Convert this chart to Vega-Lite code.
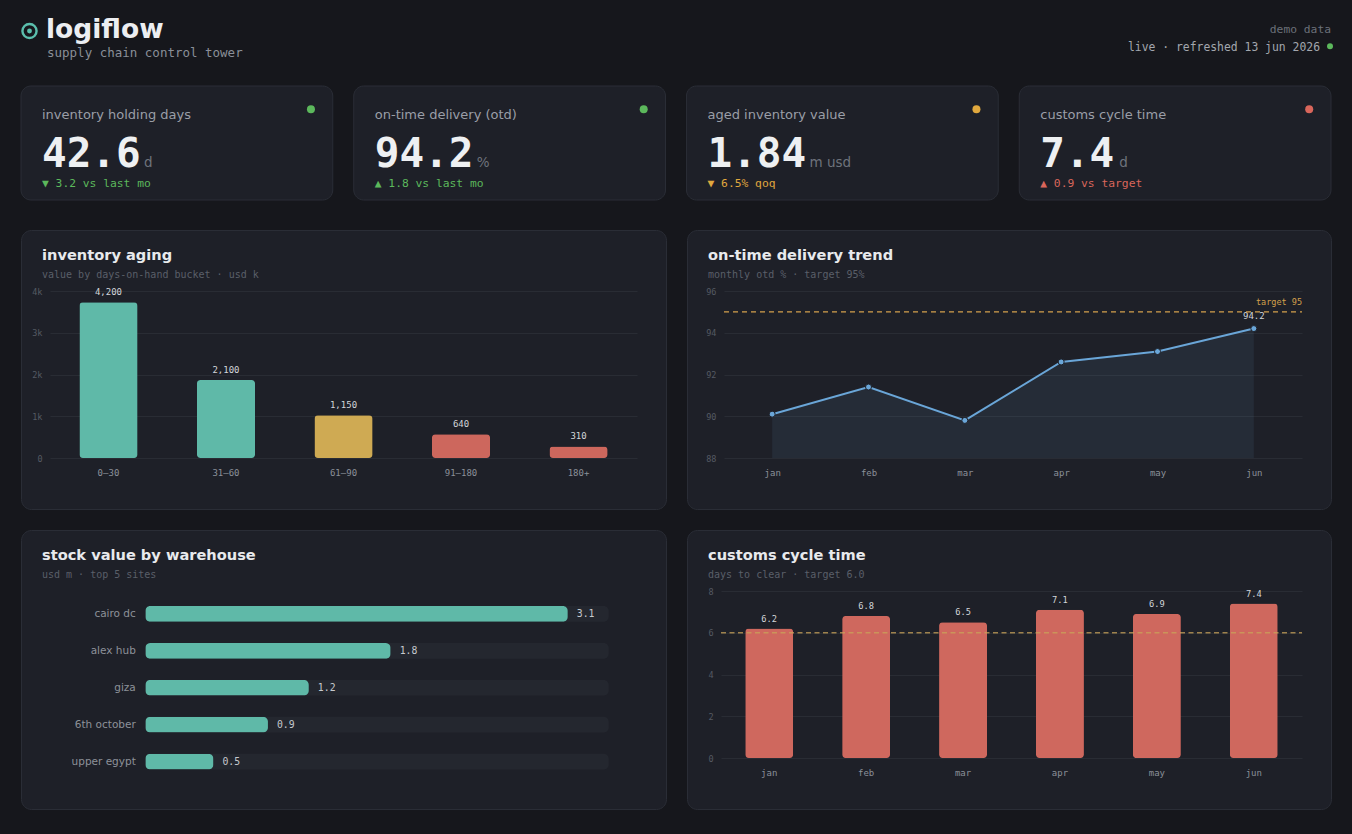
{
  "$schema": "https://vega.github.io/schema/vega-lite/v6.json",
  "background": "#16171c",
  "padding": {"left": 17, "top": 0, "right": 21, "bottom": 24},
  "autosize": {"type": "pad"},
  "datasets": {
    "header": [{"brand": "logiflow", "tagline": "supply chain control tower", "source": "demo data", "status": "live · refreshed 13 jun 2026"}],
    "kpis": [
      {"kpi": "inventory holding days", "value": "42.6", "unit": "d", "delta": "▼ 3.2 vs last mo", "status": "good"},
      {"kpi": "on-time delivery (otd)", "value": "94.2", "unit": "%", "delta": "▲ 1.8 vs last mo", "status": "good"},
      {"kpi": "aged inventory value", "value": "1.84", "unit": "m usd", "delta": "▼ 6.5% qoq", "status": "warn"},
      {"kpi": "customs cycle time", "value": "7.4", "unit": "d", "delta": "▲ 0.9 vs target", "status": "bad"}
    ],
    "aging": [
      {"bucket": "0–30", "value": 4200, "risk": "current"},
      {"bucket": "31–60", "value": 2100, "risk": "current"},
      {"bucket": "61–90", "value": 1150, "risk": "watch"},
      {"bucket": "91–180", "value": 640, "risk": "aged"},
      {"bucket": "180+", "value": 310, "risk": "aged"}
    ],
    "otd": [
      {"month": "jan", "otd": 90.1},
      {"month": "feb", "otd": 91.4},
      {"month": "mar", "otd": 89.8},
      {"month": "apr", "otd": 92.6},
      {"month": "may", "otd": 93.1},
      {"month": "jun", "otd": 94.2}
    ],
    "otd_target": [{"target": 95, "label": "target 95", "from": 0, "to": 1}],
    "warehouses": [
      {"site": "cairo dc", "value": 3.1},
      {"site": "alex hub", "value": 1.8},
      {"site": "giza", "value": 1.2},
      {"site": "6th october", "value": 0.9},
      {"site": "upper egypt", "value": 0.5}
    ],
    "customs": [
      {"month": "jan", "days": 6.2},
      {"month": "feb", "days": 6.8},
      {"month": "mar", "days": 6.5},
      {"month": "apr", "days": 7.1},
      {"month": "may", "days": 6.9},
      {"month": "jun", "days": 7.4}
    ],
    "customs_target": [{"target": 6}]
  },
  "config": {
    "view": {"stroke": null},
    "axis": {"domain": false, "ticks": false, "title": null, "grid": false, "labelFont": "DejaVu Sans Mono"},
    "title": {
      "anchor": "start", "frame": "group", "offset": -50, "dx": 21,
      "font": "DejaVu Sans", "fontSize": 14.6, "fontWeight": "bold", "color": "#e8eaed",
      "subtitleFont": "DejaVu Sans Mono", "subtitleFontSize": 10, "subtitleColor": "#5a5f69", "subtitlePadding": 7
    }
  },
  "resolve": {"scale": {"color": "independent"}},
  "spacing": 28,
  "vconcat": [
    {
      "spacing": 20,
      "resolve": {"scale": {"color": "independent"}},
      "vconcat": [
        {
          "width": 1310,
          "height": 65,
          "view": {"fill": "#16171c", "stroke": null},
          "data": {"name": "header"},
          "layer": [
            {
              "mark": {"type": "point", "shape": "circle", "filled": false, "stroke": "#5bbfad", "strokeWidth": 2.4, "size": 200, "opacity": 1, "xOffset": 8.5, "yOffset": 1},
              "encoding": {
                "x": {"datum": "brand", "type": "nominal", "scale": {"type": "point", "domain": ["brand", "meta"], "range": [0, 1310], "padding": 0}, "axis": null},
                "y": {"datum": "line1", "type": "nominal", "scale": {"type": "point", "domain": ["line1", "line2"], "range": [30, 48], "padding": 0}, "axis": null}
              }
            },
            {
              "mark": {"type": "point", "shape": "circle", "filled": true, "fill": "#5bbfad", "strokeWidth": 0, "size": 24, "opacity": 1, "xOffset": 8.5, "yOffset": 1},
              "encoding": {
                "x": {"datum": "brand", "type": "nominal"},
                "y": {"datum": "line1", "type": "nominal"}
              }
            },
            {
              "mark": {"type": "text", "font": "DejaVu Sans", "fontSize": 26.5, "fontWeight": "bold", "color": "#eceef1", "align": "left", "baseline": "alphabetic", "dx": 25, "dy": 7.5},
              "encoding": {
                "x": {"datum": "brand", "type": "nominal"},
                "y": {"datum": "line1", "type": "nominal"},
                "text": {"field": "brand"}
              }
            },
            {
              "mark": {"type": "text", "font": "DejaVu Sans Mono", "fontSize": 12.5, "color": "#8a8f98", "align": "left", "baseline": "alphabetic", "dx": 26, "dy": 8.5},
              "encoding": {
                "x": {"datum": "brand", "type": "nominal"},
                "y": {"datum": "line2", "type": "nominal"},
                "text": {"field": "tagline"}
              }
            },
            {
              "mark": {"type": "text", "font": "DejaVu Sans Mono", "fontSize": 11.3, "color": "#6b7079", "align": "right", "baseline": "alphabetic", "dy": 2.7},
              "encoding": {
                "x": {"datum": "meta", "type": "nominal"},
                "y": {"datum": "line1", "type": "nominal"},
                "text": {"field": "source"}
              }
            },
            {
              "mark": {"type": "text", "font": "DejaVu Sans Mono", "fontSize": 11.4, "color": "#a3a7ae", "align": "right", "baseline": "alphabetic", "dx": -11, "dy": 2.7},
              "encoding": {
                "x": {"datum": "meta", "type": "nominal"},
                "y": {"datum": "line2", "type": "nominal"},
                "text": {"field": "status"}
              }
            },
            {
              "mark": {"type": "point", "shape": "circle", "filled": true, "fill": "#5cb85c", "strokeWidth": 0, "size": 36, "opacity": 1, "xOffset": -1, "yOffset": -1.8},
              "encoding": {
                "x": {"datum": "meta", "type": "nominal"},
                "y": {"datum": "line2", "type": "nominal"}
              }
            }
          ]
        },
        {
          "width": 1310,
          "height": 114,
          "data": {"name": "kpis"},
          "encoding": {
            "x": {"field": "kpi", "type": "nominal", "sort": null, "scale": {"type": "band", "paddingInner": 0.0631, "paddingOuter": 0}, "axis": null}
          },
          "layer": [
            {
              "mark": {"type": "rect", "fill": "#1e2028", "stroke": "#2a2d36", "strokeWidth": 1, "cornerRadius": 10}
            },
            {
              "mark": {"type": "text", "align": "left", "baseline": "alphabetic", "dx": 21, "font": "DejaVu Sans", "fontSize": 13, "color": "#9a9ea7"},
              "encoding": {
                "x": {"field": "kpi", "type": "nominal", "sort": null, "bandPosition": 0},
                "y": {"datum": "label", "type": "nominal", "scale": {"type": "point", "domain": ["label", "value", "delta"], "range": [33, 101], "padding": 0}, "axis": null},
                "text": {"field": "kpi"}
              }
            },
            {
              "mark": {"type": "text", "align": "left", "baseline": "alphabetic", "dx": 21, "dy": 13.7, "font": "DejaVu Sans Mono", "fontWeight": "bold", "fontSize": 41, "color": "#eef0f2"},
              "encoding": {
                "x": {"field": "kpi", "type": "nominal", "sort": null, "bandPosition": 0},
                "y": {"datum": "value", "type": "nominal"},
                "text": {"field": "value"}
              }
            },
            {
              "transform": [{"filter": "length(datum.value) >= 4"}],
              "mark": {"type": "text", "align": "left", "baseline": "alphabetic", "dx": 123, "dy": 13.7, "font": "DejaVu Sans", "fontSize": 13.5, "color": "#6e737c"},
              "encoding": {
                "x": {"field": "kpi", "type": "nominal", "sort": null, "bandPosition": 0},
                "y": {"datum": "value", "type": "nominal"},
                "text": {"field": "unit"}
              }
            },
            {
              "transform": [{"filter": "length(datum.value) < 4"}],
              "mark": {"type": "text", "align": "left", "baseline": "alphabetic", "dx": 100, "dy": 13.7, "font": "DejaVu Sans", "fontSize": 13.5, "color": "#6e737c"},
              "encoding": {
                "x": {"field": "kpi", "type": "nominal", "sort": null, "bandPosition": 0},
                "y": {"datum": "value", "type": "nominal"},
                "text": {"field": "unit"}
              }
            },
            {
              "mark": {"type": "text", "align": "left", "baseline": "alphabetic", "dx": 21, "font": "DejaVu Sans Mono", "fontSize": 11.3},
              "encoding": {
                "x": {"field": "kpi", "type": "nominal", "sort": null, "bandPosition": 0},
                "y": {"datum": "delta", "type": "nominal"},
                "text": {"field": "delta"},
                "color": {"field": "status", "type": "nominal", "scale": {"domain": ["good", "warn", "bad"], "range": ["#5cb85c", "#e0a83e", "#d9665b"]}, "legend": null}
              }
            },
            {
              "mark": {"type": "point", "shape": "circle", "filled": true, "size": 64, "opacity": 1, "strokeWidth": 0, "xOffset": -21.8, "yOffset": -9.8},
              "encoding": {
                "x": {"field": "kpi", "type": "nominal", "sort": null, "bandPosition": 1},
                "y": {"datum": "label", "type": "nominal"},
                "color": {"field": "status", "type": "nominal", "legend": null}
              }
            }
          ]
        }
      ]
    },
    {
      "spacing": 19,
      "resolve": {"scale": {"color": "independent"}},
      "vconcat": [
        {
          "spacing": 19,
          "resolve": {"scale": {"color": "independent"}},
          "hconcat": [
            {
              "width": 645,
              "height": 279,
              "view": {"fill": "#1e2028", "stroke": "#2a2d36", "strokeWidth": 1, "cornerRadius": 10},
              "title": {"text": "inventory aging", "subtitle": "value by days-on-hand bucket · usd k"},
              "data": {"name": "aging"},
              "encoding": {
                "x": {"field": "bucket", "type": "nominal", "sort": null, "scale": {"type": "band", "range": [29, 616], "paddingInner": 0.505, "paddingOuter": 0.25},
                  "axis": {"labelAngle": 0, "labelFontSize": 9, "labelColor": "#8b9099", "offset": -51, "labelPadding": 17, "labelBaseline": "alphabetic"}},
                "y": {"field": "value", "type": "quantitative", "scale": {"domain": [0, 4500], "range": [228, 61], "nice": false},
                  "axis": {"values": [0, 1125, 2250, 3375, 4500], "labelExpr": "datum.value == 0 ? '0' : format(datum.value / 1125, 'd') + 'k'", "grid": true, "gridColor": "#292c34", "offset": -29, "labelPadding": 8, "labelFontSize": 8.5, "labelColor": "#555a63"}}
              },
              "layer": [
                {
                  "mark": {"type": "bar", "cornerRadius": 3.5},
                  "encoding": {
                    "color": {"field": "risk", "type": "nominal", "scale": {"domain": ["current", "watch", "aged"], "range": ["#5fb9a8", "#cfaa53", "#cd675d"]}, "legend": null}
                  }
                },
                {
                  "mark": {"type": "text", "dy": -7.5, "baseline": "alphabetic", "font": "DejaVu Sans Mono", "fontSize": 9, "color": "#d3d6da"},
                  "encoding": {"text": {"field": "value", "type": "quantitative", "format": ","}}
                }
              ]
            },
            {
              "width": 644,
              "height": 279,
              "view": {"fill": "#1e2028", "stroke": "#2a2d36", "strokeWidth": 1, "cornerRadius": 10},
              "title": {"text": "on-time delivery trend", "subtitle": "monthly otd % · target 95%"},
              "resolve": {"scale": {"x": "independent"}},
              "layer": [
                {
                  "data": {"name": "otd"},
                  "layer": [
                    {
                      "mark": {"type": "area", "color": "#6aa6d8", "opacity": 0.09},
                      "encoding": {
                        "x": {"field": "month", "type": "ordinal", "sort": null, "scale": {"type": "point", "domain": ["jan", "feb", "mar", "apr", "may", "jun"], "range": [37, 615], "padding": 0.5},
                          "axis": {"labelAngle": 0, "labelFontSize": 9, "labelColor": "#8b9099", "offset": -51, "labelPadding": 17, "labelBaseline": "alphabetic"}},
                        "y": {"field": "otd", "type": "quantitative", "scale": {"domain": [88, 96], "range": [228, 61], "nice": false, "zero": false},
                          "axis": {"values": [88, 90, 92, 94, 96], "grid": true, "gridColor": "#292c34", "offset": -37, "labelPadding": 8, "labelFontSize": 8.5, "labelColor": "#555a63"}},
                        "y2": {"datum": 88}
                      }
                    },
                    {
                      "mark": {"type": "line", "color": "#6aa6d8", "strokeWidth": 2},
                      "encoding": {
                        "x": {"field": "month", "type": "ordinal", "sort": null},
                        "y": {"field": "otd", "type": "quantitative"}
                      }
                    },
                    {
                      "mark": {"type": "point", "filled": true, "fill": "#6aa6d8", "stroke": "#1e2028", "strokeWidth": 1, "size": 36, "opacity": 1},
                      "encoding": {
                        "x": {"field": "month", "type": "ordinal", "sort": null},
                        "y": {"field": "otd", "type": "quantitative"}
                      }
                    },
                    {
                      "transform": [{"filter": "datum.month == 'jun'"}],
                      "mark": {"type": "text", "dy": -10, "baseline": "alphabetic", "font": "DejaVu Sans Mono", "fontSize": 9, "color": "#d3d6da"},
                      "encoding": {
                        "x": {"field": "month", "type": "ordinal", "sort": null},
                        "y": {"field": "otd", "type": "quantitative"},
                        "text": {"field": "otd", "type": "quantitative", "format": ".1f"}
                      }
                    }
                  ]
                },
                {
                  "data": {"name": "otd_target"},
                  "layer": [
                    {
                      "mark": {"type": "rule", "color": "#d4a04c", "strokeDash": [5, 4], "strokeWidth": 1.3},
                      "encoding": {
                        "x": {"field": "from", "type": "quantitative", "scale": {"domain": [0, 1], "range": [37, 615], "nice": false, "zero": false}, "axis": null},
                        "x2": {"field": "to"},
                        "y": {"field": "target", "type": "quantitative"}
                      }
                    },
                    {
                      "mark": {"type": "text", "align": "right", "baseline": "alphabetic", "dy": -6.5, "font": "DejaVu Sans Mono", "fontSize": 8.5, "color": "#d4a04c"},
                      "encoding": {
                        "x": {"field": "to", "type": "quantitative"},
                        "y": {"field": "target", "type": "quantitative"},
                        "text": {"field": "label"}
                      }
                    }
                  ]
                }
              ]
            }
          ]
        },
        {
          "spacing": 19,
          "resolve": {"scale": {"color": "independent"}},
          "hconcat": [
            {
              "width": 645,
              "height": 279,
              "view": {"fill": "#1e2028", "stroke": "#2a2d36", "strokeWidth": 1, "cornerRadius": 10},
              "title": {"text": "stock value by warehouse", "subtitle": "usd m · top 5 sites"},
              "data": {"name": "warehouses"},
              "encoding": {
                "y": {"field": "site", "type": "nominal", "sort": null, "scale": {"type": "band", "range": [65.5, 250], "paddingInner": 0.5745, "paddingOuter": 0.287},
                  "axis": {"offset": -124.3, "labelPadding": 10, "labelFont": "DejaVu Sans", "labelFontSize": 10.5, "labelColor": "#8d9199"}}
              },
              "layer": [
                {
                  "mark": {"type": "bar", "fill": "#24272f", "cornerRadius": 5},
                  "encoding": {
                    "x": {"datum": 3.4, "type": "quantitative", "scale": {"domain": [0, 3.4], "range": [124.3, 587.7], "nice": false}, "axis": null}
                  }
                },
                {
                  "mark": {"type": "bar", "fill": "#5fb9a8", "cornerRadius": 5},
                  "encoding": {"x": {"field": "value", "type": "quantitative"}}
                },
                {
                  "mark": {"type": "text", "align": "left", "baseline": "middle", "dx": 9, "font": "DejaVu Sans Mono", "fontSize": 9.8, "color": "#c6c9ce"},
                  "encoding": {
                    "x": {"field": "value", "type": "quantitative"},
                    "text": {"field": "value", "type": "quantitative", "format": ".1f"}
                  }
                }
              ]
            },
            {
              "width": 644,
              "height": 279,
              "view": {"fill": "#1e2028", "stroke": "#2a2d36", "strokeWidth": 1, "cornerRadius": 10},
              "title": {"text": "customs cycle time", "subtitle": "days to clear · target 6.0"},
              "resolve": {"scale": {"x": "independent"}},
              "layer": [
                {
                  "data": {"name": "customs"},
                  "layer": [
                    {
                      "mark": {"type": "bar", "cornerRadius": 3.5, "color": "#cf685e", "opacity": 1},
                      "encoding": {
                        "x": {"field": "month", "type": "ordinal", "sort": null, "scale": {"type": "band", "domain": ["jan", "feb", "mar", "apr", "may", "jun"], "range": [34, 615], "paddingInner": 0.505, "paddingOuter": 0.25},
                          "axis": {"labelAngle": 0, "labelFontSize": 9, "labelColor": "#8b9099", "offset": -51, "labelPadding": 17, "labelBaseline": "alphabetic"}},
                        "y": {"field": "days", "type": "quantitative", "scale": {"domain": [0, 8], "range": [228, 61], "nice": false},
                          "axis": {"values": [0, 2, 4, 6, 8], "grid": true, "gridColor": "#292c34", "offset": -34, "labelPadding": 8, "labelFontSize": 8.5, "labelColor": "#555a63"}}
                      }
                    },
                    {
                      "mark": {"type": "text", "dy": -7, "baseline": "alphabetic", "font": "DejaVu Sans Mono", "fontSize": 8.7, "color": "#d3d6da"},
                      "encoding": {
                        "x": {"field": "month", "type": "ordinal", "sort": null},
                        "y": {"field": "days", "type": "quantitative"},
                        "text": {"field": "days", "type": "quantitative", "format": ".1f"}
                      }
                    }
                  ]
                },
                {
                  "data": {"name": "customs_target"},
                  "mark": {"type": "rule", "color": "#c9a35a", "strokeDash": [5, 3.5], "strokeWidth": 1.3, "opacity": 0.75},
                  "encoding": {
                    "x": {"datum": 0, "type": "quantitative", "scale": {"domain": [0, 1], "range": [34, 615], "nice": false, "zero": false}, "axis": null},
                    "x2": {"datum": 1},
                    "y": {"field": "target", "type": "quantitative"}
                  }
                }
              ]
            }
          ]
        }
      ]
    }
  ]
}
